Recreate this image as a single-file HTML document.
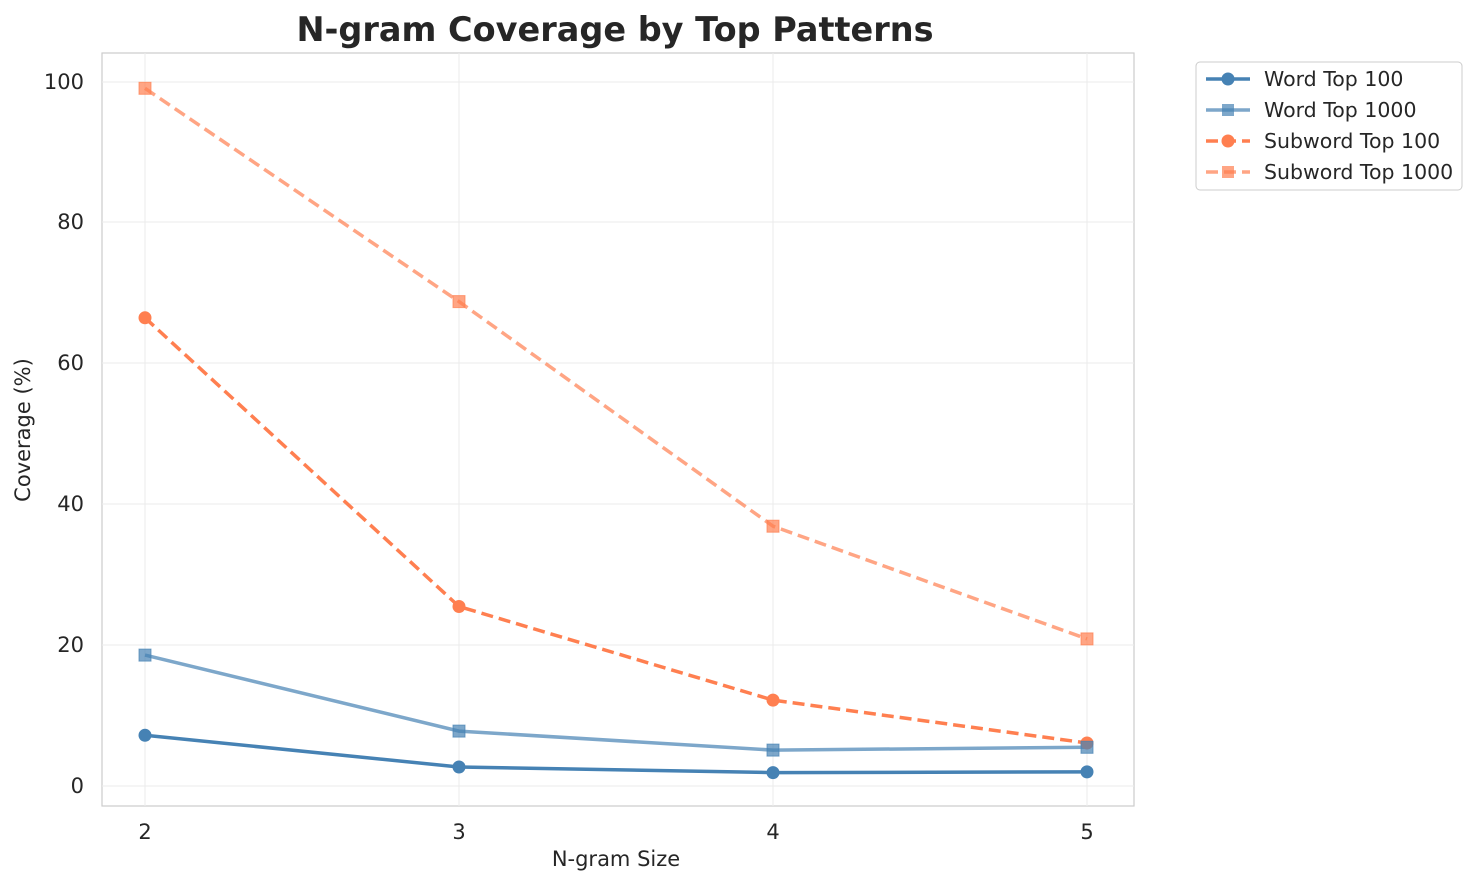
<!DOCTYPE html>
<html><head><style>body{margin:0;background:#fff}svg{display:block}text{font-family:"DejaVu Sans","Liberation Sans",sans-serif;fill:#262626}</style></head><body>
<svg width="1478" height="885" viewBox="0 0 1478 885">
<rect x="102" y="53" width="1032" height="753" fill="#fff" stroke="#ccc" stroke-width="1.2"/>
<g stroke="#ebebeb" stroke-width="1">
<line x1="145" y1="53" x2="145" y2="806"/><line x1="459" y1="53" x2="459" y2="806"/><line x1="773" y1="53" x2="773" y2="806"/><line x1="1087" y1="53" x2="1087" y2="806"/>
<line x1="102" y1="786" x2="1134" y2="786"/><line x1="102" y1="645" x2="1134" y2="645"/><line x1="102" y1="504" x2="1134" y2="504"/><line x1="102" y1="363" x2="1134" y2="363"/><line x1="102" y1="222" x2="1134" y2="222"/><line x1="102" y1="82" x2="1134" y2="82"/>
</g>
<g font-size="21" text-anchor="end">
<text x="84" y="793">0</text><text x="84" y="652">20</text><text x="84" y="511">40</text><text x="84" y="370">60</text><text x="84" y="229">80</text><text x="84" y="89">100</text>
</g>
<g font-size="21" text-anchor="middle">
<text x="145" y="839">2</text><text x="459" y="839">3</text><text x="773" y="839">4</text><text x="1087" y="839">5</text>
<text x="616" y="866">N-gram Size</text>
<text x="615" y="41" font-size="33.5" font-weight="bold">N-gram Coverage by Top Patterns</text>
</g>
<text transform="translate(30,430) rotate(-90)" font-size="21" text-anchor="middle">Coverage (%)</text>
<g fill="none" stroke-width="3.5">
<polyline stroke="#ff7f50" stroke-opacity="0.7" stroke-dasharray="12,6" points="145,88.3 459,301.6 773,526.2 1087,638.9"/>
<polyline stroke="#ff7f50" stroke-dasharray="12,6" points="145,317.8 459,606.5 773,700.1 1087,743"/>
<polyline stroke="#4682b4" stroke-opacity="0.7" points="145,655.1 459,731.1 773,750.1 1087,747.3"/>
<polyline stroke="#4682b4" points="145,735.3 459,767 773,772.6 1087,771.9"/>
</g>
<g fill="#ff7f50" fill-opacity="0.7" stroke="#ff7f50" stroke-opacity="0.7">
<rect x="139" y="82.3" width="12" height="12"/><rect x="453" y="295.6" width="12" height="12"/><rect x="767" y="520.2" width="12" height="12"/><rect x="1081" y="632.9" width="12" height="12"/>
</g>
<g fill="#ff7f50"><circle cx="145" cy="317.8" r="6.5"/><circle cx="459" cy="606.5" r="6.5"/><circle cx="773" cy="700.1" r="6.5"/><circle cx="1087" cy="743" r="6.5"/></g>
<g fill="#4682b4" fill-opacity="0.7" stroke="#4682b4" stroke-opacity="0.7">
<rect x="139" y="649.1" width="12" height="12"/><rect x="453" y="725.1" width="12" height="12"/><rect x="767" y="744.1" width="12" height="12"/><rect x="1081" y="741.3" width="12" height="12"/>
</g>
<g fill="#4682b4"><circle cx="145" cy="735.3" r="6.5"/><circle cx="459" cy="767" r="6.5"/><circle cx="773" cy="772.6" r="6.5"/><circle cx="1087" cy="771.9" r="6.5"/></g>
<rect x="1196" y="62" width="266" height="128" rx="4" fill="#fff" stroke="#ccc"/>
<g stroke-width="3.5">
<line x1="1206" y1="79" x2="1250" y2="79" stroke="#4682b4"/><circle cx="1228" cy="79" r="6.5" fill="#4682b4"/>
<line x1="1206" y1="110" x2="1250" y2="110" stroke="#4682b4" stroke-opacity="0.7"/><rect x="1222" y="104" width="12" height="12" fill="#4682b4" fill-opacity="0.7" stroke="none"/>
<line x1="1206" y1="141" x2="1250" y2="141" stroke="#ff7f50" stroke-dasharray="12,6"/><circle cx="1228" cy="141" r="6.5" fill="#ff7f50"/>
<line x1="1206" y1="172" x2="1250" y2="172" stroke="#ff7f50" stroke-opacity="0.7" stroke-dasharray="12,6"/><rect x="1222" y="166" width="12" height="12" fill="#ff7f50" fill-opacity="0.7" stroke="none"/>
</g>
<g font-size="20.5">
<text x="1264" y="86">Word Top 100</text><text x="1264" y="117">Word Top 1000</text><text x="1264" y="148">Subword Top 100</text><text x="1264" y="179">Subword Top 1000</text>
</g>
</svg>
</body></html>
